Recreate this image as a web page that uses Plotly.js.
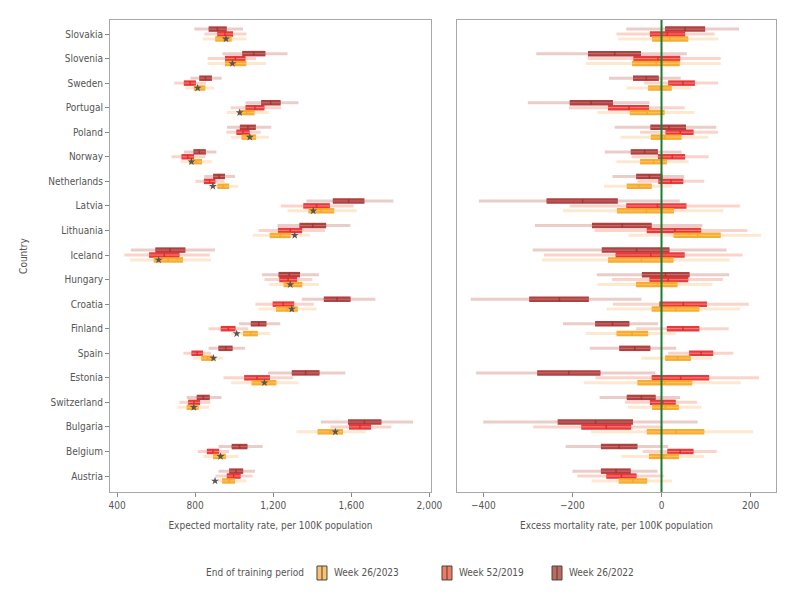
<!DOCTYPE html>
<html>
<head>
<meta charset="utf-8">
<script src="https://cdn.plot.ly/plotly-3.0.1.min.js"></script>
<style>html,body{margin:0;padding:0;background:#fff;}#chart{width:800px;height:606px;}</style>
</head>
<body>
<div id="chart"></div>
<script>
// Countries, top to bottom
var countries = ["Slovakia","Slovenia","Sweden","Portugal","Poland","Norway","Netherlands","Latvia","Lithuania","Iceland","Hungary","Croatia","Finland","Spain","Estonia","Switzerland","Bulgaria","Belgium","Austria"];

// Expected mortality rate, per 100K: [outer low, inner low, median, inner high, outer high]
var exp2022 = [[796,869,914,962,1045],[940,1041,1100,1160,1273],[776,821,853,886,936],[1058,1138,1187,1238,1329],[963,1029,1070,1111,1190],[742,791,821,855,909],[847,892,923,953,1004],[1370,1505,1586,1667,1815],[1222,1334,1402,1471,1595],[471,596,672,750,901],[1143,1227,1282,1337,1434],[1346,1459,1527,1596,1723],[1024,1085,1126,1165,1236],[869,919,957,992,1055],[1173,1295,1366,1437,1569],[757,808,842,875,935],[1444,1583,1667,1754,1916],[920,987,1028,1068,1146],[920,974,1009,1046,1106]];
var exp2019 = [[848,913,953,994,1063],[864,953,1006,1058,1112],[693,742,774,804,855],[982,1058,1106,1155,1241],[960,1011,1045,1079,1136],[679,730,762,794,852],[801,845,874,904,950],[1238,1354,1422,1490,1612],[1126,1224,1287,1348,1464],[437,564,642,720,875],[1155,1231,1276,1322,1400],[1109,1197,1251,1307,1408],[869,931,970,1007,1072],[740,781,811,840,882],[945,1051,1117,1183,1302],[720,764,794,825,877],[1493,1588,1644,1701,1805],[813,860,891,923,974],[904,962,997,1033,1094]];
var exp2023 = [[838,903,945,987,1063],[864,953,1007,1062,1163],[750,793,821,852,897],[962,1024,1063,1104,1177],[984,1038,1075,1112,1177],[725,771,803,835,886],[872,914,943,974,1021],[1273,1380,1446,1512,1628],[1095,1182,1236,1290,1388],[466,588,662,738,882],[1180,1253,1300,1349,1434],[1126,1214,1270,1326,1422],[985,1045,1084,1121,1183],[787,831,864,896,941],[984,1089,1151,1216,1329],[711,757,787,818,872],[1319,1427,1491,1557,1674],[842,892,925,957,1021],[915,938,973,1004,1063]];
// Observed mortality rate (stars)
var observed = [958,991,813,1028,1080,781,891,1405,1310,613,1287,1295,1013,894,1155,793,1518,930,902];

// Excess mortality rate, per 100K: [outer low, inner low, median, inner high, outer high]
var exc2022 = [[-79,8,53,98,174],[-281,-165,-105,-46,57],[-118,-64,-34,-6,43],[-300,-206,-158,-109,-27],[-105,-25,17,55,123],[-127,-69,-38,-8,45],[-110,-57,-27,2,51],[-410,-258,-177,-98,41],[-284,-156,-88,-22,92],[-289,-134,-56,18,146],[-145,-44,9,63,152],[-428,-297,-229,-163,-45],[-221,-149,-110,-72,-8],[-161,-95,-60,-25,33],[-416,-279,-208,-137,-14],[-139,-78,-45,-13,42],[-400,-233,-148,-64,81],[-215,-136,-95,-54,15],[-200,-136,-102,-69,-9]];
var exc2019 = [[-101,-26,13,53,119],[-166,-63,-8,42,133],[-39,15,48,75,127],[-208,-120,-73,-28,52],[-48,9,42,72,127],[-67,-8,24,53,106],[-54,-7,21,49,96],[-206,-79,-9,56,176],[-150,-33,30,89,193],[-264,-103,-24,52,182],[-111,-27,15,60,138],[-109,-5,49,102,196],[-57,12,48,85,151],[15,62,89,116,161],[-148,-22,43,107,219],[-82,-26,3,32,80],[-288,-180,-124,-68,3],[-42,13,42,72,124],[-189,-124,-90,-56,6]];
var exc2023 = [[-97,-21,19,60,128],[-170,-66,-12,41,133],[-78,-30,-3,23,67],[-144,-71,-32,7,73],[-92,-24,8,45,105],[-101,-48,-18,12,61],[-129,-78,-51,-22,24],[-221,-100,-34,28,139],[-74,27,81,133,224],[-268,-120,-45,27,153],[-144,-57,-9,36,114],[-123,-22,32,85,176],[-170,-101,-66,-30,32],[-45,8,36,66,113],[-174,-54,8,69,178],[-75,-21,9,39,89],[-158,-33,32,96,206],[-90,-28,5,39,96],[-157,-96,-64,-32,24]];

var xTickVals1 = [400,800,1200,1600,2000];
var xTickText1 = ["400","800","1,200","1,600","2,000"];
var xTickVals2 = [-400,-200,0,200];
var xTickText2 = ["\u2212400","\u2212200","0","200"];
var legendLabels = ["Week 26/2023","Week 52/2019","Week 26/2022"];

var FONT = '"DejaVu Sans Condensed","Liberation Sans Narrow",sans-serif';
var TXT = "#555";
var FS = 10;

var series = [
  {name:"Week 26/2022", exp:exp2022, exc:exc2022, off:-0.2, main:"#a83434", inner:"#c86a66", light:"rgba(200,120,110,0.38)", sw:"#c0695e"},
  {name:"Week 52/2019", exp:exp2019, exc:exc2019, off:0.0, main:"#e82a2d", inner:"#f47a74", light:"rgba(245,160,140,0.45)", sw:"#ef7b62"},
  {name:"Week 26/2023", exp:exp2023, exc:exc2023, off:0.2, main:"#f7a623", inner:"#fcc25e", light:"rgba(252,205,150,0.45)", sw:"#fbc36f"}
];

function segs(data, off, a, b){
  var x=[], y=[];
  for (var i=0;i<data.length;i++){
    x.push(data[i][a], data[i][b], null);
    y.push(i+off, i+off, null);
  }
  return {x:x,y:y};
}

var traces = [];
series.forEach(function(s){
  [["exp","x","y"],["exc","x2","y2"]].forEach(function(p){
    var d = s[p[0]];
    var outer = segs(d, s.off, 0, 4);
    traces.push({type:"scatter",mode:"lines",x:outer.x,y:outer.y,xaxis:p[1],yaxis:p[2],
      line:{color:s.light,width:3},hoverinfo:"skip",showlegend:false});
    var inner = segs(d, s.off, 1, 3);
    traces.push({type:"scatter",mode:"lines",x:inner.x,y:inner.y,xaxis:p[1],yaxis:p[2],
      line:{color:s.main,width:5.5},opacity:0.92,hoverinfo:"skip",showlegend:false});
    traces.push({type:"scatter",mode:"lines",x:inner.x,y:inner.y,xaxis:p[1],yaxis:p[2],
      line:{color:s.inner,width:1.2},hoverinfo:"skip",showlegend:false});
    traces.push({type:"scatter",mode:"markers",
      x:d.map(function(r){return r[2];}), y:d.map(function(r,i){return i+s.off;}),
      xaxis:p[1],yaxis:p[2],
      marker:{symbol:"line-ns-open",size:3,color:s.main,line:{color:s.main,width:1.5}},
      hoverinfo:"skip",showlegend:false});
  });
});
traces.push({type:"scatter",mode:"markers",x:observed,y:observed.map(function(v,i){return i+0.2;}),
  xaxis:"x",yaxis:"y",marker:{symbol:"star",size:6,color:"#555555"},hoverinfo:"skip",showlegend:false});

var yr = [18.65,-0.57];
var tickIdx = countries.map(function(c,i){return i;});

var axisBase = {showgrid:false,zeroline:false,showline:true,mirror:true,linecolor:"#a8a8a8",linewidth:1,
  ticks:"outside",ticklen:4,tickcolor:"#888",tickfont:{family:FONT,size:FS,color:TXT}};

function ext(o,e){var r={};for(var k in o)r[k]=o[k];for(var k2 in e)r[k2]=e[k2];return r;}

var shapes = [{type:"line",xref:"x2",yref:"paper",x0:0,x1:0,y0:0,y1:1,line:{color:"#1f7a34",width:2},layer:"above"}];
var annotations = [{xref:"paper",yref:"paper",x:0.2943,y:-0.1716,xanchor:"right",yanchor:"middle",showarrow:false,
  text:"End of training period",font:{family:FONT,size:FS,color:TXT}}];
var swX = [0.3108,0.4985,0.6637];
var swCols = [series[2].sw, series[1].sw, series[0].sw];
for (var k=0;k<3;k++){
  shapes.push({type:"rect",xref:"paper",yref:"paper",x0:swX[k],x1:swX[k]+0.015,y0:-0.1864,y1:-0.1568,
    fillcolor:swCols[k],line:{color:"#444",width:1}});
  shapes.push({type:"line",xref:"paper",yref:"paper",x0:swX[k]+0.0075,x1:swX[k]+0.0075,y0:-0.1864,y1:-0.1568,
    line:{color:"#444",width:1}});
  annotations.push({xref:"paper",yref:"paper",x:swX[k]+0.0225,y:-0.1716,xanchor:"left",yanchor:"middle",showarrow:false,
    text:legendLabels[k],font:{family:FONT,size:FS,color:TXT}});
}

var layout = {
  width:800,height:606,
  margin:{l:110,r:24,t:20,b:114},
  paper_bgcolor:"#fff",plot_bgcolor:"#fff",
  showlegend:false,
  font:{family:FONT,size:FS,color:TXT},
  xaxis:ext(axisBase,{domain:[0,0.482],range:[364,2008],tickvals:xTickVals1,ticktext:xTickText1,anchor:"y",
    title:{text:"Expected mortality rate, per 100K population",font:{family:FONT,size:FS,color:TXT},standoff:11}}),
  xaxis2:ext(axisBase,{domain:[0.521,1],range:[-459,257],tickvals:xTickVals2,ticktext:xTickText2,anchor:"y2",
    title:{text:"Excess mortality rate, per 100K population",font:{family:FONT,size:FS,color:TXT},standoff:11}}),
  yaxis:ext(axisBase,{range:yr,tickvals:tickIdx,ticktext:countries,anchor:"x",
    title:{text:"Country",font:{family:FONT,size:FS,color:TXT},standoff:18}}),
  yaxis2:ext(axisBase,{range:yr,tickvals:tickIdx,showticklabels:false,ticks:"",anchor:"x2"}),
  shapes:shapes,
  annotations:annotations
};

Plotly.newPlot("chart",traces,layout,{displayModeBar:false,staticPlot:true});
</script>
</body>
</html>
